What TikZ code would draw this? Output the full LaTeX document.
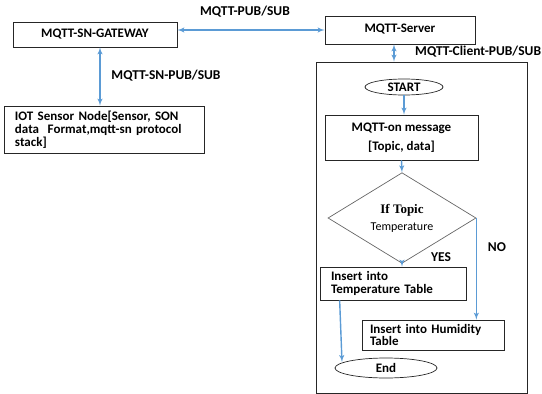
\documentclass[tikz,border=0pt]{standalone}
\usepackage{fontspec}
\setmainfont{Carlito}
\newfontfamily\topicfont{Liberation Serif}
\usetikzlibrary{arrows}
\usetikzlibrary{shapes.geometric}
\definecolor{linkblue}{RGB}{91,155,213}

\begin{document}
\begin{tikzpicture}[x=1pt,y=-1pt]
    \tikzset{box/.style = {shape=rectangle,draw=black!85,line width=0.7pt,inner sep=0pt,font=\bfseries\fontsize{13}{12.8}\selectfont}}
    \tikzset{term/.style = {shape=ellipse,draw=black!85,line width=0.7pt,inner sep=0pt,font=\bfseries\fontsize{13}{13}\selectfont}}
    \tikzset{decision/.style = {shape=diamond,draw=black!60,line width=0.7pt,inner sep=0pt,minimum width=148pt,minimum height=71pt}}
    \tikzset{link/.style = {<->,> = latex',draw=linkblue,line width=1.4pt}}
    \tikzset{flow/.style = {->,> = latex',draw=linkblue,line width=1.4pt}}
    \tikzset{lbl/.style = {shape=rectangle,draw=none,inner sep=0pt,font=\bfseries\fontsize{13.5}{13.5}\selectfont}}

    \useasboundingbox (0,0) rectangle (542,394);

    % left side
    \node[box,minimum width=164pt,minimum height=25pt] (gateway) at (95,34.5) {\raisebox{3pt}{MQTT-SN-GATEWAY}};
    \node[box,minimum width=200pt,minimum height=47pt,inner xsep=11pt,text width=178pt,align=left] (sensor) at (104,129.5) {IOT Sensor Node[Sensor, SON\\data\ \ Format,mqtt-sn protocol\\stack]};

    % server and client flow
    \node[box,minimum width=150pt,minimum height=28pt] (server) at (400,30) {\raisebox{4pt}{MQTT-Server}};
    \node[box,minimum width=211pt,minimum height=331pt] (client) at (421.5,227.5) {};

    \node[term,minimum width=78pt,minimum height=16pt] (start) at (404,87) {START};
    \node[box,minimum width=153pt,minimum height=45pt,align=center] (message) at (401.5,137.5) {MQTT-on message\\[6pt][Topic, data]};
    \node[decision,align=center] (test) at (402,218) {{\topicfont\bfseries\fontsize{13}{13}\selectfont If Topic\hspace{12pt}}\\[5pt]{\fontsize{12}{12}\selectfont Temperature}};
    \node[box,minimum width=146pt,minimum height=33pt,inner xsep=11pt,text width=124pt,align=left] (temp) at (393,283.5) {Insert into\\Temperature Table};
    \node[box,minimum width=142pt,minimum height=30pt,inner xsep=8pt,text width=126pt,align=left] (hum) at (433,335) {Insert into Humidity\\Table};
    \node[term,minimum width=102pt,minimum height=20pt] (end) at (386,368) {End};
    \coordinate (endin) at (342,362);

    % labels
    \node[lbl] (pubsub) at (245,12) {MQTT-PUB/SUB};
    \node[lbl] (snpubsub) at (166,76) {MQTT-SN-PUB/SUB};
    \node[lbl,anchor=west] (clientpubsub) at (415,52) {MQTT-Client-PUB/SUB};
    \node[lbl] (yes) at (441,257) {YES};
    \node[lbl] (no) at (497,247) {NO};

    % edges
    \draw[link] (server.west -| gateway.east) -- (server.west);
    \draw[link] ([xshift=5pt]gateway.south) -- ([xshift=5pt]gateway.south |- sensor.north);
    \draw[link] ([xshift=-6pt]server.south) -- ([xshift=-6pt]server.south |- client.north);
    \draw[flow] (start.south) -- (start.south |- message.north);
    \draw[flow] (message.south) -- (test.north);
    \draw[flow] (test.south) -- (test.south |- temp.north);
    \draw[flow] (test.east) -- (test.east |- hum.north);
    \draw[flow] ([xshift=20pt]temp.south west) -- (endin);
\end{tikzpicture}
\end{document}
